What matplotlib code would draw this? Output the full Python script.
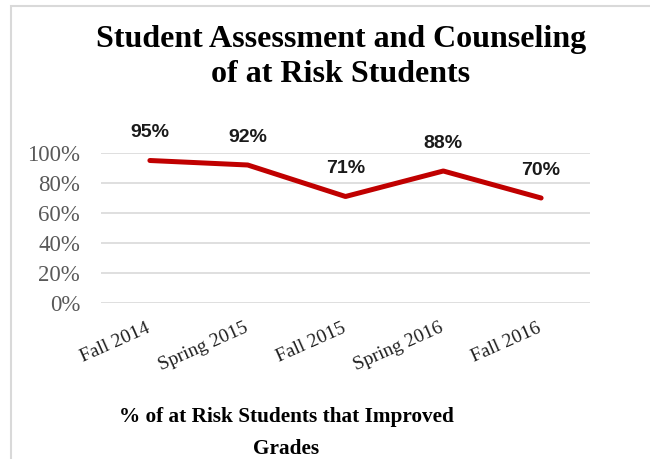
import matplotlib.pyplot as plt
from matplotlib.patches import Rectangle
from matplotlib.ticker import PercentFormatter
from matplotlib.transforms import ScaledTranslation

terms = ["Fall 2014", "Spring 2015", "Fall 2015", "Spring 2016", "Fall 2016"]
improved = [0.95, 0.92, 0.71, 0.88, 0.70]
yticks = [0, 0.2, 0.4, 0.6, 0.8, 1.0]

serif = ["Liberation Serif", "DejaVu Serif"]
sans = ["Liberation Sans", "DejaVu Sans"]

fig = plt.figure(figsize=(6.5, 4.59), dpi=100)
ax = fig.add_axes([101 / 650, 1 - 303 / 459, 489 / 650, 150 / 459])

# chart area border (only top and left visible in the crop)
fig.patches.append(Rectangle((11 / 650, -0.5), 2, 1.5 - 6 / 459, transform=fig.transFigure,
                             fill=False, edgecolor="#d9d9d9", linewidth=1.5))

x = list(range(len(terms)))
ax.plot(x, improved, color="#c00000", linewidth=3.6, solid_capstyle="round",
        solid_joinstyle="round", zorder=3)
for xi, v in zip(x, improved):
    ax.annotate(f"{v:.0%}", (xi, v), xytext=(0, 20), textcoords="offset points",
                ha="center", va="center", fontsize=14, fontweight="bold",
                family=sans, color="#1a1a1a", annotation_clip=False)

ax.set_xlim(-0.5, len(terms) - 0.5)
ax.set_ylim(0, 1)
ax.set_yticks(yticks)
ax.yaxis.set_major_formatter(PercentFormatter(1.0, decimals=0))
ax.grid(axis="y", color="#d9d9d9", linewidth=1.2)
ax.set_axisbelow(True)
for s in ax.spines.values():
    s.set_visible(False)
ax.tick_params(length=0)
ax.tick_params(axis="y", pad=15, labelcolor="#595959", labelsize=16.5)
for lab in ax.get_yticklabels():
    lab.set_family(serif)

ax.set_xticks(x)
ax.set_xticklabels(terms, rotation=24, ha="right", va="top", rotation_mode="anchor",
                   family=serif, fontsize=14, color="#1f1f1f")
ax.tick_params(axis="x", pad=12)
shift = ScaledTranslation(-4 / 100, 0, fig.dpi_scale_trans)
for lab in ax.get_xticklabels():
    lab.set_transform(lab.get_transform() + shift)

fig.text(341 / 650, 1 - 57 / 459, "Student Assessment and Counseling\nof at Risk Students",
         ha="center", va="center", family=serif, fontweight="bold", fontsize=23,
         linespacing=1.28)
fig.text(286 / 650, 1 - 433 / 459, "% of at Risk Students that Improved\nGrades",
         ha="center", va="center", family=serif, fontweight="bold", fontsize=15.3,
         linespacing=1.75)

fig.savefig("out.png", dpi=100, facecolor="white")
